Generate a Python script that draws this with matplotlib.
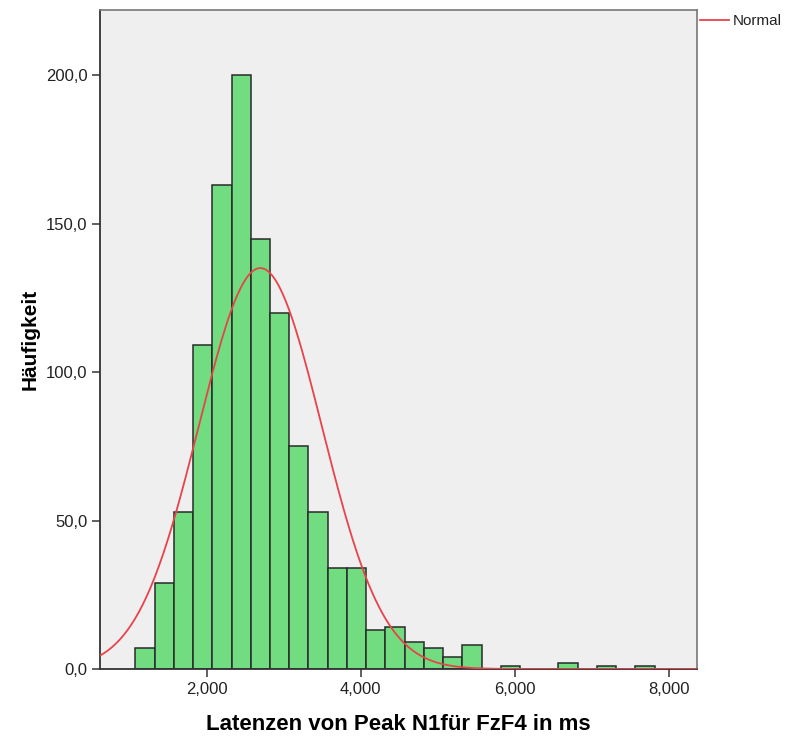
import matplotlib
matplotlib.use("Agg")
import matplotlib.pyplot as plt
import numpy as np

plt.rcParams['font.family'] = ['Liberation Sans', 'DejaVu Sans']

# Histogramm: Klassengrenzen (Start, Breite) und Häufigkeiten
bin_start = 1070
bin_width = 250
counts = [7, 29, 53, 109, 163, 200, 145, 120, 75, 53, 34, 34, 13, 14, 9, 7, 4, 8,
          0, 1, 0, 0, 2, 0, 1, 0, 1]

# Normalverteilung (Mittelwert, Standardabweichung, N)
mean_val = 2694
sd_val = 799
n_total = 1082

x_ticks = [2000, 4000, 6000, 8000]
y_ticks = [0, 50, 100, 150, 200]

edges = bin_start + bin_width * np.arange(len(counts) + 1)

fig = plt.figure(figsize=(7.87, 7.39), dpi=100)
ax = fig.add_axes([0.127, 0.0947, 0.7586, 0.8918])
ax.set_facecolor('#efefef')

ax.bar(edges[:-1], counts, width=bin_width, align='edge', color='#71dc80',
       edgecolor='#2a2a2a', linewidth=1.1, zorder=2)

xs = np.linspace(600, 8400, 600)
ys = n_total * bin_width / (sd_val * np.sqrt(2 * np.pi)) * np.exp(-0.5 * ((xs - mean_val) / sd_val) ** 2)
ax.plot(xs, ys, color='#e8434a', linewidth=1.3, zorder=3)

ax.set_xlim(610, 8370)
ax.set_ylim(0, 222)
ax.set_xticks(x_ticks)
ax.set_xticklabels([f"{v/1000:.3f}".replace('.', ',') for v in x_ticks])
ax.set_yticks(y_ticks)
ax.set_yticklabels([f"{v:.1f}".replace('.', ',') for v in y_ticks])
ax.tick_params(axis='both', direction='out', length=6, width=1.2, color='#444444',
               labelsize=12, labelcolor='#222222', pad=3)

for side in ['left', 'bottom']:
    ax.spines[side].set_color('#333333')
    ax.spines[side].set_linewidth(1.3)
for side in ['top', 'right']:
    ax.spines[side].set_color('#777777')
    ax.spines[side].set_linewidth(1.2)

ax.set_xlabel('Latenzen von Peak N1für FzF4 in ms', fontsize=16, fontweight='bold', va='center')
ax.set_ylabel('Häufigkeit', fontsize=15, fontweight='bold', va='center')
ax.xaxis.set_label_coords((398 - 100) / 597, (669 - 724) / 659)
ax.yaxis.set_label_coords((30 - 100) / 597, 0.5)

# Legende außerhalb rechts oben
fig.lines.append(plt.Line2D([700 / 787, 729 / 787], [1 - 20 / 739, 1 - 20 / 739],
                            transform=fig.transFigure, color='#e8434a', linewidth=1.3))
fig.text(733 / 787, 1 - 21 / 739, 'Normal', fontsize=11, va='center', ha='left', color='#222222')

fig.savefig('out.png', dpi=100)
